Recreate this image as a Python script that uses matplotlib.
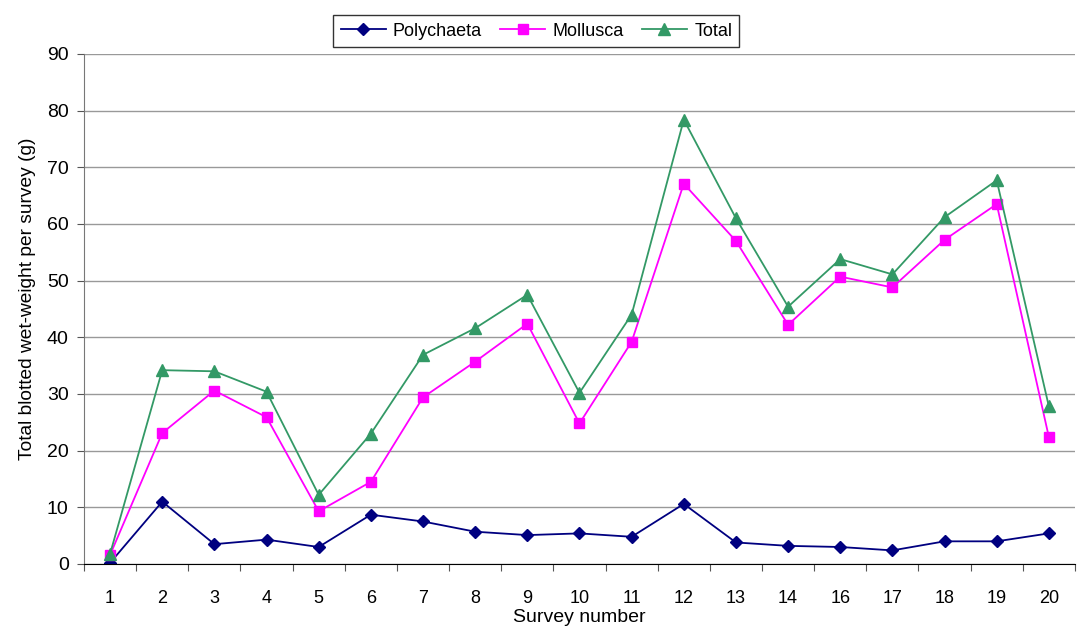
import numpy as np
import matplotlib
matplotlib.use('Agg')
import matplotlib.pyplot as plt

plt.rcParams['font.family'] = ['Liberation Sans', 'DejaVu Sans']

surveys = ['1', '2', '3', '4', '5', '6', '7', '8', '9', '10',
           '11', '12', '13', '14', '16', '17', '18', '19', '20']
polychaeta = [0.2, 11.0, 3.5, 4.3, 3.0, 8.7, 7.5, 5.7, 5.1, 5.4,
              4.8, 10.6, 3.8, 3.2, 3.0, 2.4, 4.0, 4.0, 5.4]
mollusca = [1.6, 23.1, 30.6, 25.9, 9.3, 14.5, 29.4, 35.7, 42.4, 24.8,
            39.2, 67.1, 57.0, 42.2, 50.7, 48.8, 57.2, 63.5, 22.4]
total = [1.8, 34.2, 34.0, 30.4, 12.2, 23.0, 36.9, 41.6, 47.5, 30.2,
         44.0, 78.4, 61.0, 45.4, 53.8, 51.1, 61.2, 67.7, 27.8]

fig = plt.figure(figsize=(10.88, 6.4), dpi=100)
ax = fig.add_axes([0.0772, 0.11875, 0.9108, 0.797])

x = np.arange(len(surveys))
ax.plot(x, polychaeta, color='#000080', marker='D', markersize=6, lw=1.3, label='Polychaeta')
ax.plot(x, mollusca, color='#FF00FF', marker='s', markersize=7, lw=1.3, label='Mollusca')
ax.plot(x, total, color='#339966', marker='^', markersize=8, lw=1.3, label='Total')

ax.set_xlim(-0.5, len(surveys) - 0.5)
ax.set_ylim(0, 90)
ax.set_yticks(np.arange(0, 91, 10))
ax.yaxis.grid(True, color='#999999', lw=1)
ax.set_axisbelow(True)

# ticks between categories, labels centred on them
ax.set_xticks(np.arange(-0.5, len(surveys), 1.0))
ax.set_xticklabels([])
ax.set_xticks(x, minor=True)
ax.set_xticklabels(surveys, minor=True, fontsize=13)
ax.tick_params(axis='x', which='minor', length=0, pad=19)
ax.tick_params(axis='x', which='major', length=5, direction='out', color='#555555')
ax.tick_params(axis='y', length=5, direction='out', labelsize=14, color='#555555', pad=6)

for s in ['top', 'right']:
    ax.spines[s].set_visible(False)
ax.spines['left'].set_color('#777777')
ax.spines['bottom'].set_color('black')

ax.set_xlabel('Survey number', fontsize=14, labelpad=1)
ax.set_ylabel('Total blotted wet-weight per survey (g)', fontsize=13.8)
ax.yaxis.set_label_coords(-0.048, 0.52)

leg = fig.legend(loc='upper center', bbox_to_anchor=(0.493, 0.99), ncol=3, fontsize=13,
                 frameon=True, fancybox=False, edgecolor='black', handlelength=2.5,
                 columnspacing=1.0, handletextpad=0.4, borderpad=0.4)
leg.get_frame().set_linewidth(1)

fig.savefig('out.png', dpi=100, facecolor='white')
